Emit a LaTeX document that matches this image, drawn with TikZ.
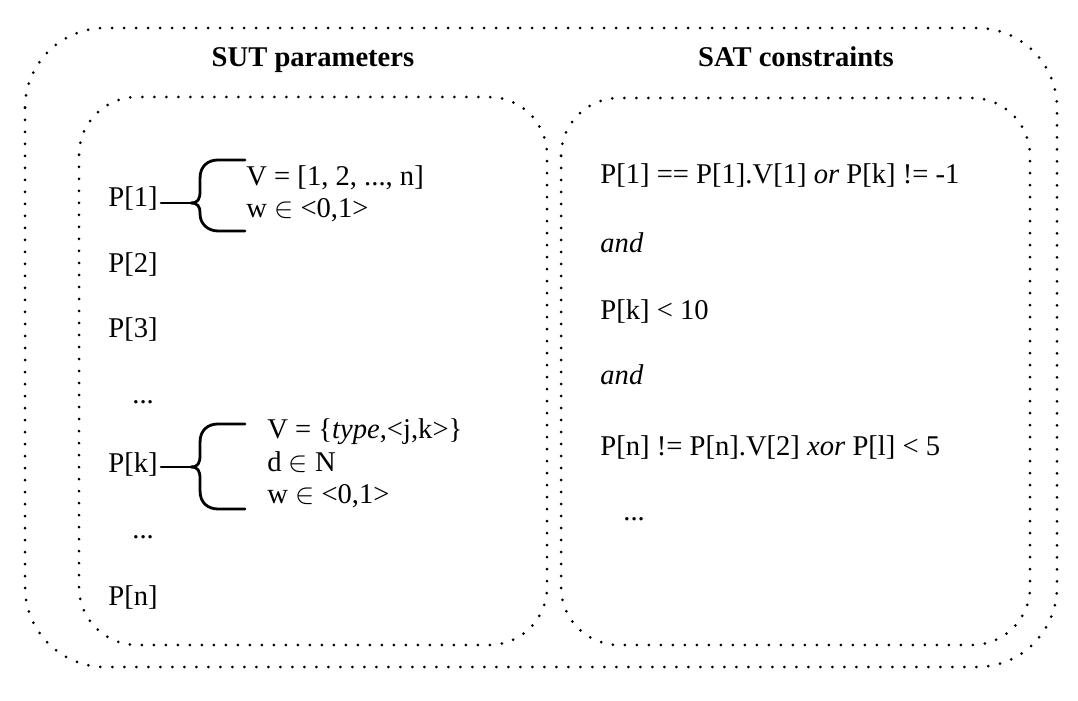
\documentclass[tikz,border=0pt]{standalone}
\usepackage{fontspec}
\setmainfont{Liberation Serif}
\usetikzlibrary{positioning,calc}

\begin{document}
\begin{tikzpicture}[
  x=0.5pt, y=-0.5pt,
  every node/.style={font=\fontsize{14.3}{17}\selectfont, inner sep=0pt},
  dotbox/.style={line width=1.5pt, line cap=round, dash pattern=on 0pt off 6pt},
  head/.style={anchor=base, font=\fontsize{14.3}{17}\selectfont\bfseries},
  txt/.style={anchor=base west},
  bracel/.style={line width=1.4pt, line cap=round}
]
\useasboundingbox (0,0) rectangle (1078,701);

% ---- Column positions ----
\def\xP{108}   % parameter col
\def\xC{600}   % constraint col

% ---- Frames ----
\draw[dotbox, rounded corners=40pt] (25,28) rectangle (1057,667);
\draw[dotbox, rounded corners=29pt] (79,97) rectangle (547,645);
\draw[dotbox, rounded corners=29pt] (561,98) rectangle (1030,645);

% ---- Headers ----
\node[head] (hsut) at (313,67) {SUT parameters};
\node[head] (hsat) at (796,67) {SAT constraints};

% ---- Parameters ----
\node[txt] (p1)  at (\xP,207) {P[1]};
\node[txt] (p2)  at (\xP,272) {P[2]};
\node[txt] (p3)  at (\xP,337) {P[3]};
\node[txt] (dt1) at (132,403) {...};
\node[txt] (pk)  at (\xP,473) {P[k]};
\node[txt] (dt2) at (132,538) {...};
\node[txt] (pn)  at (\xP,605) {P[n]};

% P[1] details
\node[txt] (v1) at (246,186) {V = [1, 2, ..., n]};
\node[txt] (w1) at (246,218) {w $\in$ <0,1>};

% P[k] details
\node[txt] (vk) at (267,438) {V = \{\textit{type},<j,k>\}};
\node[txt] (dk) at (267,471) {d $\in$ N};
\node[txt] (wk) at (267,503) {w $\in$ <0,1>};

% ---- Braces ----
\draw[bracel] ([xshift=1.5pt,yshift=-2pt]p1.east) -- ++(30,0) coordinate (b1);
\draw[bracel] (b1) .. controls +(7,0) and +(0,8) .. ++(9,-12) -- ++(0,-13)
  .. controls +(0,-12) and +(-10,0) .. ++(18,-18) -- ++(27,0);
\draw[bracel] (b1) .. controls +(7,0) and +(0,-6) .. ++(9,10) -- ++(0,1)
  .. controls +(0,10) and +(-10,0) .. ++(18,17) -- ++(27,0);

\draw[bracel] ([xshift=1.5pt,yshift=-1pt]pk.east) -- ++(30,0) coordinate (bk);
\draw[bracel] (bk) .. controls +(7,0) and +(0,8) .. ++(9,-12) -- ++(0,-13)
  .. controls +(0,-12) and +(-10,0) .. ++(18,-18) -- ++(27,0);
\draw[bracel] (bk) .. controls +(7,0) and +(0,-8) .. ++(9,12) -- ++(0,12)
  .. controls +(0,12) and +(-10,0) .. ++(18,18) -- ++(27,0);

% ---- Constraints ----
\node[txt] (c1) at (\xC,184) {P[1] == P[1].V[1] \textit{or} P[k] != -1};
\node[txt] (a1) at (\xC,253) {\textit{and}};
\node[txt] (c2) at (\xC,320) {P[k] < 10};
\node[txt] (a2) at (\xC,385) {\textit{and}};
\node[txt] (c3) at (\xC,455) {P[n] != P[n].V[2] \textit{xor} P[l] < 5};
\node[txt] (dt3) at (623,520) {...};

\end{tikzpicture}
\end{document}
